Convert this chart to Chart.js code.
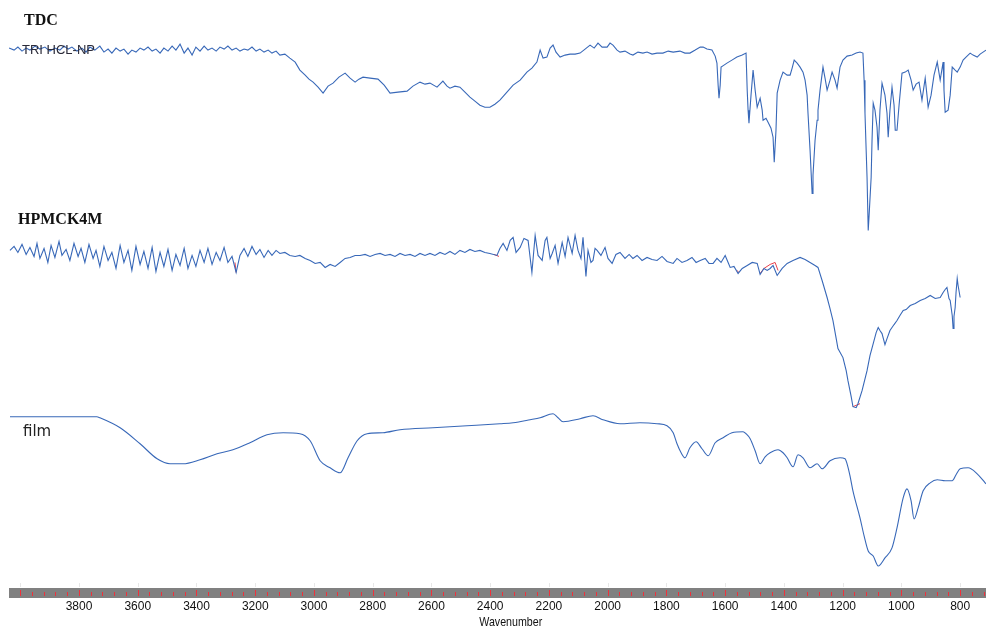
<!DOCTYPE html>
<html>
<head>
<meta charset="utf-8">
<title>FTIR spectra - TDC, HPMCK4M, film</title>
<script src="https://cdn.jsdelivr.net/npm/chart.js@4.4.1/dist/chart.umd.min.js"></script>
<style>
  html, body { margin: 0; padding: 0; background: #fff; }
  #wrap { width: 986px; height: 628px; }
</style>
</head>
<body>
<div id="wrap"><canvas id="ftir" width="986" height="628"></canvas></div>
<script>
// x tick labels (wavenumber, cm-1)
const tickLabels = [3800, 3600, 3400, 3200, 3000, 2800, 2600, 2400, 2200, 2000, 1800, 1600, 1400, 1200, 1000, 800];

// TDC (TRI HCL-NP) spectrum, arbitrary transmittance units
const tdcWave = [4038,4021,4008,3994,3980,3967,3950,3933,3916,3899,3882,3865,3851,3837,3824,3807,3790,3776,3763,3746,
  3729,3715,3701,3688,3674,3660,3647,3633,3620,3606,3592,3579,3565,3551,3538,3524,3511,3497,3483,3470,
  3456,3442,3429,3415,3402,3388,3374,3361,3347,3333,3320,3306,3293,3279,3265,3252,3238,3225,3211,3197,
  3184,3170,3156,3143,3129,3116,3099,3082,3064,3048,3030,3017,3003,2986,2969,2952,2935,2915,2894,2877,
  2860,2847,2833,2809,2782,2761,2741,2714,2683,2663,2639,2622,2605,2581,2561,2547,2537,2520,2503,2486,
  2469,2452,2435,2418,2401,2384,2367,2346,2322,2298,2275,2258,2241,2230,2220,2207,2196,2186,2176,2162,
  2145,2128,2111,2094,2077,2060,2046,2033,2019,2002,1992,1982,1968,1958,1941,1924,1914,1897,1880,1866,
  1849,1832,1812,1794,1777,1754,1737,1720,1702,1685,1675,1662,1645,1634,1628,1624,1621,1617,1614,1604,
  1594,1577,1560,1542,1529,1525,1522,1519,1512,1505,1498,1491,1481,1474,1471,1461,1454,1444,1437,1433,
  1427,1423,1413,1403,1389,1379,1372,1365,1355,1345,1335,1328,1321,1318,1311,1304,1301,1294,1287,1284,
  1277,1267,1260,1253,1243,1236,1226,1219,1209,1199,1185,1168,1154,1141,1131,1127,1124,1120,1117,1113,
  1110,1103,1100,1096,1090,1083,1079,1073,1066,1056,1049,1045,1039,1032,1025,1021,1015,1008,998,987,
  977,967,960,950,940,930,919,913,909,899,889,878,868,858,855,851,841,834,827,817,
  810,800,790,780,766,756,742,732,722,712];
const tdcValue = [189,187,190,186,189,187,191,188,190,186,189,187,191,188,190,186,189,185,190,187,
  191,185,188,184,189,186,188,183,187,185,189,187,190,186,188,184,189,186,191,187,
  193,184,189,182,190,186,191,187,189,186,190,188,191,187,189,186,188,187,190,186,
  188,185,187,184,186,182,183,179,175,167,162,158,155,150,144,151,154,160,164,159,
  155,158,160,159,158,152,144,145,146,151,155,153,154,150,156,151,149,151,150,145,
  140,136,132,130,130,133,137,144,152,157,165,169,175,187,179,180,189,192,185,180,
  182,183,183,184,188,192,189,194,190,190,194,192,187,185,186,183,182,185,184,185,
  183,184,184,186,185,186,184,184,187,190,190,188,187,181,174,152,139,152,170,172,
  174,177,180,182,184,147,127,114,142,167,147,130,139,127,117,119,115,109,100,75,
  107,144,157,165,162,162,169,177,174,170,165,157,142,124,87,44,62,97,117,127,
  147,170,159,147,157,165,157,149,170,177,181,182,184,185,184,157,124,87,60,7,
  22,60,97,134,127,110,87,127,154,142,124,100,127,150,132,107,107,132,164,165,
  167,157,147,153,155,137,159,142,130,142,162,175,157,175,147,125,127,142,170,167,
  165,170,177,180,184,182,180,183,185,187];

// HPMCK4M spectrum
const hpmcWave = [4035,4021,4008,3994,3980,3967,3953,3943,3933,3919,3906,3895,3882,3868,3858,3844,3831,3817,3803,3793,
  3780,3766,3752,3742,3729,3715,3701,3688,3674,3660,3647,3633,3620,3606,3592,3579,3565,3551,3538,3524,
  3511,3497,3483,3470,3456,3442,3429,3415,3402,3388,3374,3361,3347,3333,3320,3306,3293,3279,3265,3252,
  3238,3225,3211,3197,3184,3170,3156,3143,3129,3116,3099,3082,3064,3048,3030,3013,2996,2979,2962,2945,
  2928,2911,2894,2877,2860,2843,2826,2809,2792,2775,2758,2741,2724,2707,2690,2673,2656,2639,2622,2605,
  2588,2571,2554,2537,2520,2503,2486,2469,2452,2435,2418,2401,2377,2367,2356,2343,2332,2322,2312,2298,
  2285,2271,2258,2247,2237,2223,2213,2207,2196,2189,2179,2169,2155,2145,2135,2121,2111,2101,2091,2084,
  2074,2067,2057,2050,2043,2036,2023,2009,1999,1985,1972,1958,1941,1927,1914,1900,1883,1866,1849,1832,
  1815,1798,1777,1764,1747,1730,1713,1699,1685,1668,1655,1641,1628,1614,1600,1590,1583,1570,1556,1542,
  1525,1508,1491,1481,1468,1457,1447,1437,1423,1406,1389,1369,1345,1328,1311,1294,1284,1270,1253,1243,
  1233,1222,1216,1199,1188,1182,1171,1165,1154,1148,1134,1117,1107,1096,1086,1079,1073,1066,1056,1049,
  1039,1025,1015,1005,994,984,970,953,936,919,902,885,868,858,851,845,838,834,827,824,
  821,817,814,810,807,800];
const hpmcValue = [167,171,165,173,163,170,161,174,159,169,155,172,160,176,162,168,157,174,161,169,
  155,173,159,167,151,171,157,165,149,172,155,167,147,171,153,166,149,170,146,165,
  151,168,147,163,152,169,149,162,151,167,155,169,153,165,157,170,155,161,145,162,
  169,161,171,163,168,160,167,162,167,164,165,162,161,162,159,157,154,155,150,153,
  151,155,159,160,162,162,163,161,163,164,162,163,161,164,162,163,161,164,162,164,
  162,165,163,166,163,167,165,168,166,167,165,164,162,169,174,167,177,180,165,170,
  179,177,145,182,162,157,177,180,159,164,172,154,175,161,180,164,182,167,159,180,
  141,167,155,157,169,167,162,170,159,154,163,165,159,163,159,162,157,160,158,157,
  161,156,154,159,155,157,160,155,157,159,154,154,159,155,162,155,150,151,144,149,
  152,155,154,143,149,147,149,152,142,149,154,157,160,158,155,152,150,137,120,109,
  97,79,69,60,47,37,21,11,10,14,27,47,62,74,85,90,87,84,73,79,
  87,93,97,102,107,108,112,114,117,119,122,119,120,125,128,130,119,117,102,89,
  101,110,125,139,132,120];

// peak-pick marks on the HPMCK4M trace (red), null = gap
const peakWave = [3269,3265,3262,2387,2370,2366,1560,1553,1550,1481,1468,1447,1430,1420,1416,1165,1141];
const peakValue = [155,145,null,163,161,null,147,145,null,144,149,153,155,147,null,11,14];

// film spectrum
const filmWave = [4035,3967,3865,3739,3729,3660,3592,3534,3490,3446,3388,3330,3276,3218,3160,3105,3048,3013,2979,2945,
  2911,2884,2853,2819,2765,2707,2595,2479,2367,2322,2264,2230,2186,2169,2152,2094,2050,2016,1958,1890,
  1832,1798,1777,1764,1750,1737,1720,1699,1679,1658,1634,1607,1577,1539,1529,1515,1498,1481,1464,1447,
  1420,1403,1389,1369,1352,1335,1311,1287,1270,1243,1209,1192,1185,1175,1165,1141,1127,1113,1096,1079,
  1056,1032,1015,994,981,967,957,943,926,902,878,851,827,814,800,773,742,715,712];
const filmValue = [171,171,171,171,170,160,144,129,124,124,128,134,138,145,153,155,154,147,127,120,
  115,130,147,154,155,158,160,162,164,165,168,170,174,170,166,169,172,168,164,165,
  164,162,155,144,135,130,140,146,139,132,145,150,155,156,154,149,137,124,131,135,
  138,135,130,121,133,130,120,124,119,127,130,129,124,112,97,70,52,37,32,22,
  30,40,60,90,99,87,69,80,97,105,108,107,107,113,119,120,114,105,104];

// vertical stacking of the three traces
const offsets = { tdc: 350, hpmc: 170, film: 0 };
const lineColor = '#3868b8';

function toPoints(wave, value, offset) {
  return wave.map((w, i) => ({ x: w, y: value[i] === null ? null : value[i] + offset }));
}

const axisBand = {
  id: 'axisBand',
  afterDraw(chart) {
    const { ctx } = chart;
    const x = chart.scales.x;
    const top = chart.chartArea.bottom;
    const h = 10;
    ctx.save();
    ctx.fillStyle = '#808080';
    ctx.fillRect(9, top, chart.width - 9, h);
    ctx.lineWidth = 1;
    for (let w = 4000; w >= 720; w -= 40) {
      const px = Math.round(x.getPixelForValue(w)) + 0.5;
      const major = w % 200 === 0;
      ctx.strokeStyle = '#f0303a';
      ctx.beginPath();
      ctx.moveTo(px, top + (major ? 2 : 4));
      ctx.lineTo(px, top + h - 2);
      ctx.stroke();
      if (major) {
        ctx.strokeStyle = '#e8e8e8';
        ctx.beginPath();
        ctx.moveTo(px, top - 5);
        ctx.lineTo(px, top - 1);
        ctx.stroke();
      }
    }

    // spectrum names and axis title
    ctx.textBaseline = 'alphabetic';
    ctx.textAlign = 'left';
    ctx.fillStyle = '#111';
    ctx.font = 'bold 16px "Liberation Serif", "Times New Roman", serif';
    ctx.fillText('TDC', 24, 25);
    ctx.fillText('HPMCK4M', 18, 224);
    ctx.fillStyle = '#2a2a38';
    ctx.font = '13px "Liberation Sans", Arial, sans-serif';
    ctx.fillText('TRI HCL-NP', 22, 54);
    ctx.fillStyle = '#222';
    ctx.font = '15px "DejaVu Sans", Verdana, sans-serif';
    ctx.fillText('film', 23, 436);
    // condensed axis title
    ctx.fillStyle = '#111';
    ctx.font = '13px "Liberation Sans", Arial, sans-serif';
    ctx.translate(x.getPixelForValue(2330), 626);
    ctx.scale(0.82, 1);
    ctx.textAlign = 'center';
    ctx.fillText('Wavenumber', 0, 0);
    ctx.restore();
  }
};

const traceStyle = {
  borderColor: lineColor,
  borderWidth: 1.1,
  pointRadius: 0,
  fill: false,
  tension: 0
};

new Chart(document.getElementById('ftir'), {
  type: 'line',
  data: {
    datasets: [
      Object.assign({ label: 'TDC', data: toPoints(tdcWave, tdcValue, offsets.tdc) }, traceStyle),
      Object.assign({ label: 'HPMCK4M', data: toPoints(hpmcWave, hpmcValue, offsets.hpmc) }, traceStyle),
      {
        label: 'peaks',
        data: toPoints(peakWave, peakValue, offsets.hpmc),
        borderColor: '#e8404a',
        borderWidth: 1,
        pointRadius: 0,
        spanGaps: false
      },
      Object.assign({ label: 'film', data: toPoints(filmWave, filmValue, offsets.film) }, traceStyle,
        { cubicInterpolationMode: 'monotone' })
    ]
  },
  options: {
    responsive: false,
    animation: false,
    devicePixelRatio: 1,
    layout: { padding: { left: 8.5, right: 0, top: 0, bottom: 3.6 } },
    plugins: { legend: { display: false }, tooltip: { enabled: false } },
    scales: {
      x: {
        type: 'linear',
        reverse: true,
        min: 712,
        max: 4040,
        grid: { display: false, drawTicks: false },
        border: { display: false },
        afterBuildTicks: (scale) => { scale.ticks = tickLabels.map(v => ({ value: v })); },
        ticks: {
          autoSkip: false,
          maxRotation: 0,
          padding: 11,
          color: '#111',
          font: { family: '"Liberation Sans", Arial, sans-serif', size: 12 },
          callback: (v) => String(v)
        }
      },
      y: {
        display: false,
        min: 0,
        max: 587
      }
    }
  },
  plugins: [axisBand]
});
</script>
</body>
</html>
